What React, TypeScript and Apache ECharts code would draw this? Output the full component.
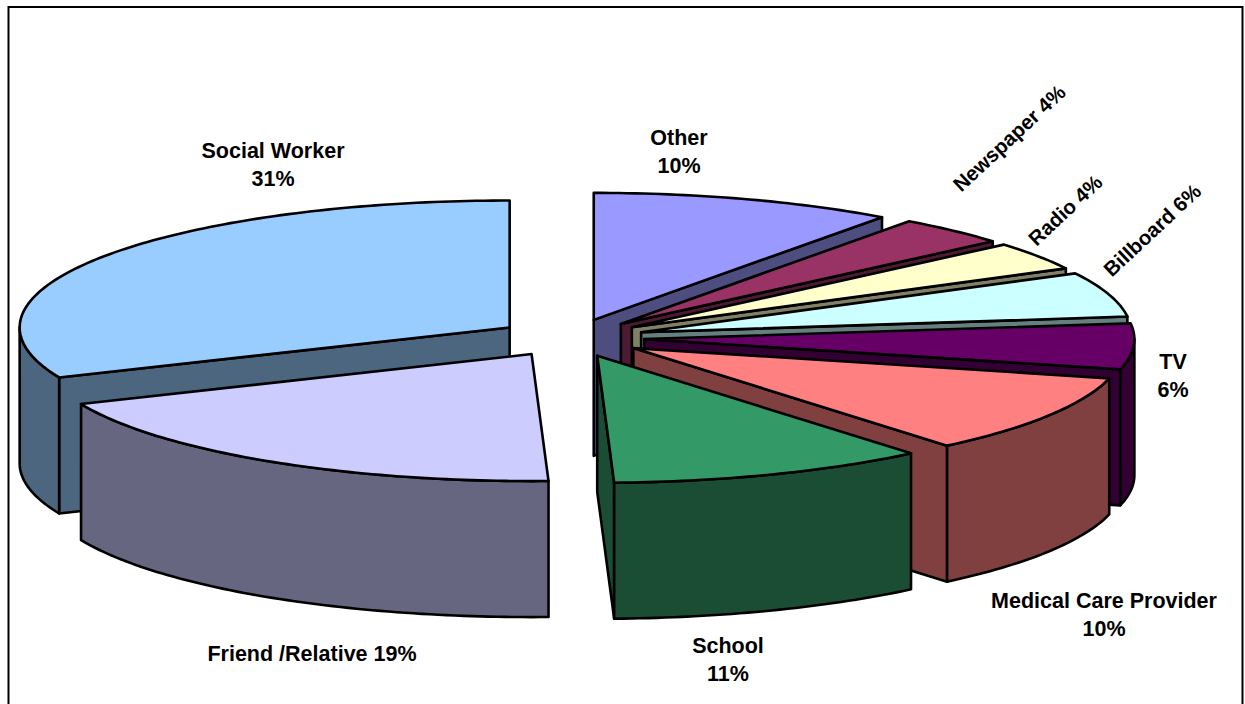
import React, { useEffect, useRef } from "react";
import * as echarts from "echarts";

// Share of responses per source, clockwise from twelve o'clock.
const categories = ["Other", "Newspaper", "Radio", "Billboard", "TV", "Medical Care Provider", "School", "Friend /Relative", "Social Worker"];
const shares = [10, 3.7, 3.6, 5.7, 5.8, 10.1, 10.5, 19.1, 31.4];
const topColors = ["#9999ff", "#993366", "#ffffcc", "#ccffff", "#660066", "#ff8080", "#339966", "#ccccff", "#99ccff"];
const sideColors = ["#4d4d80", "#4d1a33", "#808066", "#668080", "#330033", "#804040", "#1a4d33", "#666680", "#4d6680"];

// Painter's order: slices further back go first.
const drawOrder = [8, 0, 1, 2, 3, 4, 5, 7, 6];

// Label anchor (centre), rotation in degrees, and whether the value breaks to a second line.
const labelLayout: [number, number, number, boolean][] = [
  [679, 152, 0, true],
  [1009, 138, 43, false],
  [1065, 210, 43, false],
  [1152, 230, 43, false],
  [1173, 376, 0, true],
  [1104, 615, 0, true],
  [728, 660, 0, true],
  [312, 654, 0, false],
  [273, 165, 0, true],
];

const CX = 571;
const CY = 338;
const RX = 490;
const RY = 127;
const EXPLODE = 0.15;
const DEPTH = 136;

const TOTAL = shares.reduce((a, b) => a + b, 0);
const rad = (deg: number) => (deg * Math.PI) / 180;

function renderSlice(params: any, api: any) {
  const index = api.value(0);
  const share = api.value(1);
  const before = api.value(2);
  const a0 = (before / TOTAL) * 360;
  const a1 = ((before + share) / TOTAL) * 360;
  const mid = (a0 + a1) / 2;
  const ox = CX + EXPLODE * RX * Math.sin(rad(mid));
  const oy = CY - EXPLODE * RY * Math.cos(rad(mid));
  const rim = (a: number, drop = 0): number[] => [
    ox + RX * Math.sin(rad(a)),
    oy - RY * Math.cos(rad(a)) + drop,
  ];
  const arc = (from: number, to: number, drop = 0) => {
    const n = Math.max(2, Math.ceil(Math.abs(to - from)));
    const pts: number[][] = [];
    for (let i = 0; i <= n; i++) pts.push(rim(from + ((to - from) * i) / n, drop));
    return pts;
  };
  const face = (points: number[][], fill: string) => ({
    type: "polygon",
    shape: { points },
    style: { fill, stroke: "#000", lineWidth: 2.6, lineJoin: "round" },
  });
  const children: any[] = [];
  const side = sideColors[index];
  const apex = [ox, oy];
  const apexLow = [ox, oy + DEPTH];

  // Cut faces turned towards the viewer.
  if (Math.sin(rad(a0)) < -1e-6) {
    children.push(face([apex, rim(a0), rim(a0, DEPTH), apexLow], side));
  }
  if (Math.sin(rad(a1)) > 1e-6) {
    children.push(face([apex, rim(a1), rim(a1, DEPTH), apexLow], side));
  }
  // Outer wall: only the front half of the rim can be seen.
  const w0 = Math.max(a0, 90);
  const w1 = Math.min(a1, 270);
  if (w1 > w0) {
    children.push(face([...arc(w0, w1), ...arc(w1, w0, DEPTH)], side));
  }
  // Top of the slice.
  children.push(face([apex, ...arc(a0, a1)], topColors[index]));

  // Data label; the slanted ones run slightly smaller.
  const [lx, ly, rot, twoLines] = labelLayout[index];
  const pct = `${Math.round(share)}%`;
  const size = rot ? 20.5 : 21.5;
  children.push({
    type: "text",
    x: lx,
    y: ly,
    rotation: rad(rot),
    style: {
      text: `${categories[index]}${twoLines ? "\n" : " "}${pct}`,
      fill: "#000",
      font: `bold ${size}px "Liberation Sans", Arial, sans-serif`,
      lineHeight: 28,
      align: "center",
      verticalAlign: "middle",
    },
  });
  return { type: "group", children };
}

export default function App() {
  const ref = useRef<HTMLDivElement>(null);
  useEffect(() => {
    document.body.style.margin = "0";
    const chart = echarts.init(ref.current!, null, { renderer: "svg" });
    const cumulative = shares.map((_, i) => shares.slice(0, i).reduce((a, b) => a + b, 0));
    chart.setOption({
      animation: false,
      backgroundColor: "#fff",
      graphic: [
        {
          type: "polyline",
          shape: { points: [[8.5, 704], [8.5, 7], [1242.5, 7], [1242.5, 704]] },
          style: { fill: "none", stroke: "#000", lineWidth: 2 },
        },
      ],
      series: [
        {
          type: "custom",
          coordinateSystem: "none",
          silent: true,
          renderItem: renderSlice,
          data: drawOrder.map((i) => ({ name: categories[i], value: [i, shares[i], cumulative[i]] })),
        },
      ],
    });
    return () => chart.dispose();
  }, []);
  return <div ref={ref} style={{ position: "absolute", left: 0, top: 0, width: 1245, height: 704 }} />;
}
